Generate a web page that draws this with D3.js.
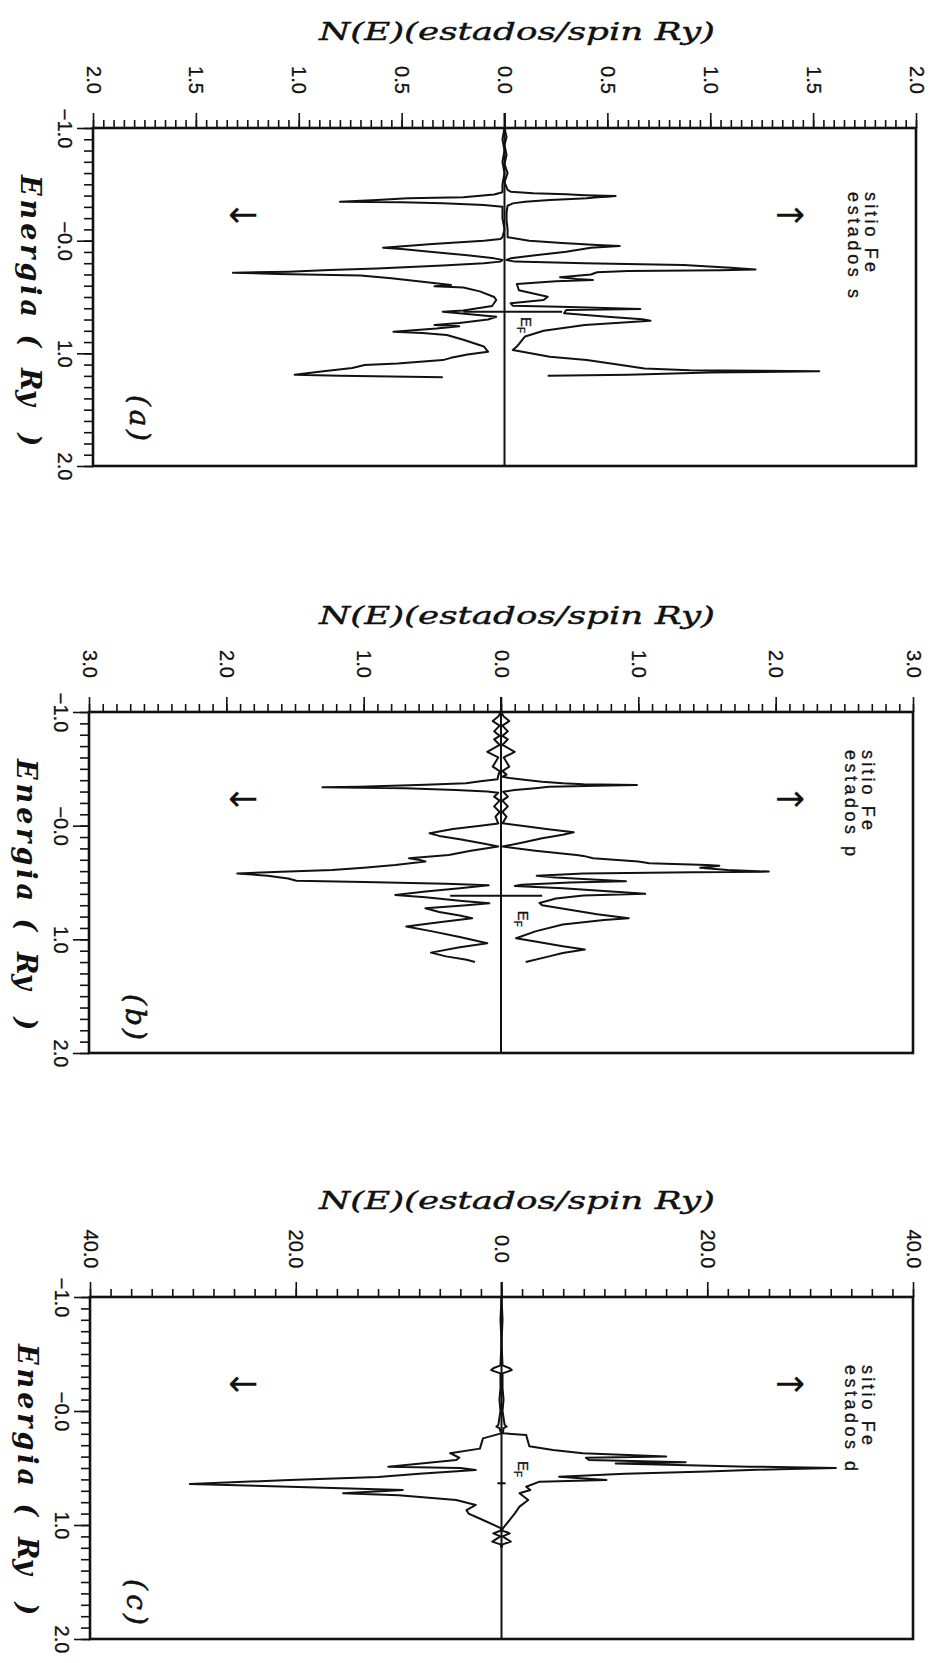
<!DOCTYPE html>
<html>
<head>
<meta charset="utf-8">
<script src="https://cdn.jsdelivr.net/npm/d3@7"></script>
<style>
body { margin: 0; background: #fff; }
svg { display: block; }
.curve { fill: none; stroke: #111; stroke-width: 2; stroke-linejoin: round; }
.frame { fill: none; stroke: #111; stroke-width: 2.6; }
.rule { stroke: #111; stroke-width: 2; }
.title { font-family: "DejaVu Serif", serif; font-style: italic; font-size: 25px; fill: #111; stroke: #111; stroke-width: 0.4; }
.etitle { font-family: "DejaVu Serif", serif; font-style: italic; font-weight: bold; font-size: 27px; fill: #111; }
.letter { font-family: "DejaVu Serif", serif; font-style: italic; font-size: 28px; fill: #111; stroke: #111; stroke-width: 0.6; }
.num { font-family: "Liberation Sans", Arial, sans-serif; font-size: 20px; fill: #111; stroke: #111; stroke-width: 0.3; }
.legend { font-family: "Liberation Sans", Arial, sans-serif; font-size: 18px; fill: #111; stroke: #111; stroke-width: 0.3; }
.arrow { font-family: "DejaVu Sans", sans-serif; font-size: 36px; fill: #111; }
.ef { font-family: "Liberation Sans", Arial, sans-serif; font-size: 15px; fill: #111; stroke: #111; stroke-width: 0.3; }
</style>
</head>
<body>
<svg id="chart" width="931" height="1663"></svg>
<script>
/*globals d3*/

// energy axis (Ry), same for the three panels
var energyTicks = [-1, 0, 1, 2];
var energyLabels = ["\u22121.0", "\u22120.0", "1.0", "2.0"];

// N(E) axis ticks and printed labels for each panel
var nTicksS = [-2, -1.5, -1, -0.5, 0, 0.5, 1, 1.5, 2];
var nLabelsS = ["2.0", "1.5", "1.0", "0.5", "0.0", "0.5", "1.0", "1.5", "2.0"];
var nTicksP = [-3, -2, -1, 0, 1, 2, 3];
var nLabelsP = ["3.0", "2.0", "1.0", "0.0", "1.0", "2.0", "3.0"];
var nTicksD = [-40, -20, 0, 20, 40];
var nLabelsD = ["40.0", "20.0", "0.0", "20.0", "40.0"];

var panelLetters = ["(a)", "(b)", "(c)"];
var legendSite = "sitio Fe";
var legendStates = ["estados s", "estados p", "estados d"];

// Fermi level marker: energy, N span, and energy of the E_F label
var fermiE = [0.63, 0.616, 0.634];
var fermiSpan = [[-0.2, 0.28], [-0.37, 0.30], [-0.4, 0.4]];
var fermiLabelE = [0.75, 0.82, 0.51];

// curves as [E, N]; spin down values are positive and drawn to the left
var sUp = [[-1.00,0.00],[-0.92,0.01],[-0.85,0.00],[-0.76,0.01],[-0.68,0.00],[-0.60,0.015],[-0.52,0.00],[-0.45,0.015],
  [-0.435,0.03],[-0.42,0.14],[-0.411,0.30],[-0.404,0.39],[-0.396,0.54],[-0.39,0.50],[-0.385,0.45],[-0.376,0.40],
  [-0.368,0.30],[-0.361,0.22],[-0.346,0.10],[-0.331,0.04],[-0.31,0.015],[-0.25,0.01],[-0.18,0.01],[-0.10,0.015],
  [-0.03,0.015],[0.00,0.12],[0.02,0.28],[0.038,0.45],[0.047,0.56],[0.062,0.42],[0.098,0.30],[0.13,0.15],[0.157,0.03],
  [0.172,0.01],[0.186,0.05],[0.201,0.39],[0.216,0.87],[0.24,1.10],[0.255,1.22],[0.262,1.05],[0.27,0.60],[0.28,0.45],
  [0.30,0.42],[0.325,0.27],[0.34,0.35],[0.349,0.43],[0.36,0.25],[0.385,0.06],[0.44,0.07],[0.497,0.21],[0.527,0.19],
  [0.556,0.03],[0.577,0.04],[0.586,0.27],[0.606,0.66],[0.615,0.30],[0.645,0.29],[0.675,0.50],[0.698,0.67],[0.71,0.71],
  [0.748,0.39],[0.80,0.19],[0.85,0.10],[0.94,0.06],[0.97,0.04],[1.03,0.22],[1.06,0.40],[1.10,0.55],[1.135,0.68],
  [1.15,0.90],[1.155,1.25],[1.16,1.53],[1.17,1.00],[1.19,0.60],[1.20,0.21]];
var sDown = [[-1.00,0.00],[-0.90,0.01],[-0.80,0.00],[-0.70,0.01],[-0.60,0.00],[-0.50,0.01],[-0.43,0.01],[-0.41,0.05],
  [-0.385,0.20],[-0.376,0.47],[-0.36,0.62],[-0.346,0.80],[-0.34,0.50],[-0.331,0.30],[-0.317,0.10],[-0.302,0.01],
  [-0.20,0.01],[-0.10,0.00],[-0.03,0.01],[-0.015,0.02],[0.00,0.10],[0.03,0.35],[0.062,0.59],[0.075,0.50],[0.10,0.35],
  [0.13,0.18],[0.157,0.05],[0.172,0.01],[0.186,0.02],[0.20,0.10],[0.22,0.30],[0.246,0.62],[0.26,0.85],[0.275,1.05],
  [0.285,1.32],[0.295,1.10],[0.31,0.70],[0.334,0.55],[0.36,0.42],[0.393,0.26],[0.405,0.34],[0.415,0.20],[0.45,0.12],
  [0.50,0.05],[0.527,0.04],[0.58,0.06],[0.62,0.20],[0.63,0.30],[0.645,0.22],[0.675,0.04],[0.70,0.08],[0.73,0.22],
  [0.748,0.34],[0.76,0.22],[0.78,0.33],[0.808,0.54],[0.82,0.40],[0.837,0.28],[0.88,0.20],[0.94,0.10],[0.985,0.08],
  [1.01,0.18],[1.04,0.26],[1.06,0.30],[1.09,0.52],[1.104,0.68],[1.13,0.74],[1.16,0.88],[1.19,1.02],[1.20,0.80],[1.213,0.30]];

var pUp = [[-1.00,0.00],[-0.96,0.02],[-0.92,0.06],[-0.88,0.01],[-0.83,0.05],[-0.79,0.01],[-0.76,0.05],[-0.71,0.01],
  [-0.65,0.10],[-0.60,0.02],[-0.52,0.06],[-0.48,0.01],[-0.45,0.04],[-0.431,0.012],[-0.42,0.06],[-0.40,0.20],
  [-0.387,0.30],[-0.373,0.45],[-0.364,0.60],[-0.358,0.99],[-0.352,0.70],[-0.343,0.35],[-0.33,0.25],[-0.314,0.10],
  [-0.299,0.015],[-0.255,0.05],[-0.22,0.01],[-0.17,0.05],[-0.12,0.01],[-0.08,0.04],[-0.021,0.012],[0.00,0.15],
  [0.03,0.33],[0.058,0.53],[0.08,0.45],[0.11,0.30],[0.15,0.15],[0.184,0.012],[0.22,0.25],[0.258,0.55],[0.266,0.60],
  [0.287,0.67],[0.316,1.00],[0.331,1.08],[0.346,1.50],[0.352,1.59],[0.37,1.45],[0.39,1.65],[0.404,1.95],[0.41,1.40],
  [0.42,0.60],[0.44,0.26],[0.455,0.40],[0.475,0.70],[0.49,0.91],[0.50,0.50],[0.52,0.15],[0.53,0.10],[0.55,0.45],
  [0.575,0.75],[0.60,1.05],[0.615,0.60],[0.64,0.40],[0.68,0.28],[0.70,0.30],[0.74,0.50],[0.78,0.70],[0.815,0.93],
  [0.83,0.75],[0.87,0.45],[0.93,0.25],[0.99,0.11],[1.02,0.25],[1.06,0.45],[1.09,0.61],[1.12,0.45],[1.15,0.35],[1.20,0.18]];
var pDown = [[-1.00,0.00],[-0.96,0.02],[-0.92,0.06],[-0.88,0.01],[-0.83,0.05],[-0.79,0.01],[-0.76,0.05],[-0.71,0.01],
  [-0.65,0.10],[-0.60,0.02],[-0.52,0.06],[-0.48,0.01],[-0.44,0.02],[-0.408,0.025],[-0.39,0.15],[-0.373,0.255],
  [-0.36,0.55],[-0.343,1.03],[-0.337,1.30],[-0.33,0.70],[-0.314,0.33],[-0.30,0.10],[-0.29,0.02],[-0.255,0.05],
  [-0.22,0.01],[-0.17,0.05],[-0.12,0.01],[-0.08,0.04],[-0.02,0.02],[0.00,0.15],[0.03,0.35],[0.067,0.52],[0.09,0.45],
  [0.12,0.30],[0.16,0.12],[0.184,0.02],[0.22,0.22],[0.258,0.38],[0.287,0.67],[0.30,0.60],[0.316,0.55],[0.346,0.77],
  [0.37,1.00],[0.39,1.23],[0.405,1.60],[0.42,1.92],[0.44,1.70],[0.465,1.55],[0.484,1.49],[0.495,1.00],[0.51,0.40],
  [0.525,0.09],[0.55,0.30],[0.58,0.55],[0.61,0.77],[0.63,0.55],[0.66,0.30],[0.683,0.085],[0.70,0.25],[0.727,0.55],
  [0.76,0.45],[0.79,0.30],[0.815,0.21],[0.85,0.45],[0.888,0.69],[0.93,0.50],[0.98,0.30],[1.035,0.10],[1.07,0.30],
  [1.117,0.51],[1.15,0.40],[1.18,0.25],[1.20,0.19]];

var dUp = [[-1.00,0.0],[-0.80,0.1],[-0.60,0.0],[-0.40,0.1],[-0.375,0.8],[-0.36,1.0],[-0.345,0.6],[-0.33,0.1],
  [-0.20,0.1],[-0.10,0.2],[0.00,0.1],[0.12,0.3],[0.137,0.5],[0.15,0.2],[0.196,0.13],[0.21,2.4],[0.31,2.7],
  [0.342,5.0],[0.371,7.9],[0.40,16.0],[0.41,8.2],[0.43,8.5],[0.45,17.9],[0.46,11.1],[0.488,24.1],[0.50,32.5],
  [0.51,27.0],[0.53,20.0],[0.55,12.0],[0.576,5.6],[0.605,10.2],[0.62,3.7],[0.664,2.4],[0.693,2.8],[0.722,1.75],
  [0.781,2.6],[0.839,1.75],[0.898,1.3],[0.956,0.8],[1.029,0.13],[1.05,0.1],[1.073,0.8],[1.10,0.1],[1.146,0.9],
  [1.17,0.1],[1.20,0.0]];
var dDown = [[-1.00,0.0],[-0.80,0.1],[-0.60,0.0],[-0.40,0.1],[-0.375,0.8],[-0.36,1.0],[-0.345,0.6],[-0.33,0.1],
  [-0.20,0.1],[-0.10,0.2],[0.00,0.1],[0.12,0.3],[0.137,0.5],[0.15,0.2],[0.196,0.03],[0.24,1.8],[0.33,2.1],
  [0.37,5.0],[0.41,4.1],[0.43,4.4],[0.488,11.0],[0.50,4.0],[0.517,2.5],[0.55,8.0],[0.58,12.0],[0.605,20.6],
  [0.64,30.3],[0.664,20.6],[0.693,9.6],[0.722,15.4],[0.74,10.0],[0.78,4.4],[0.824,2.5],[0.87,3.4],[0.90,3.2],
  [0.956,1.8],[1.029,0.03],[1.05,0.1],[1.073,0.8],[1.10,0.1],[1.146,0.9],[1.17,0.1],[1.20,0.0]];

var panels = [
  {letter: panelLetters[0], states: legendStates[0], ticks: nTicksS, labels: nLabelsS, minorStep: 0.05, up: sUp, down: sDown, k: 0},
  {letter: panelLetters[1], states: legendStates[1], ticks: nTicksP, labels: nLabelsP, minorStep: 0.1, up: pUp, down: pDown, k: 1},
  {letter: panelLetters[2], states: legendStates[2], ticks: nTicksD, labels: nLabelsD, minorStep: 2, up: dUp, down: dDown, k: 2}
];

// page boxes of the three frames
var boxes = [
  {top: 128, bottom: 466, left: 93, right: 916, legendDy: 64, letterDy: 290},
  {top: 712, bottom: 1053, left: 89, right: 913, legendDy: 38, letterDy: 305},
  {top: 1297, bottom: 1639, left: 90, right: 913, legendDy: 68, letterDy: 305}
];

var svg = d3.select("#chart");

function cleanAxis(sel) {
    sel.select(".domain").remove();
    sel.attr("font-size", null).attr("font-family", null);
    sel.selectAll("line").attr("stroke", "#111").attr("stroke-width", 1.6);
}

function rotText(g, cls, px, py, str) {
    return g.append("text")
        .attr("class", cls)
        .attr("transform", "translate(" + px + "," + py + ") rotate(90)")
        .attr("dy", "0.35em")
        .text(str);
}

function drawPanel(p, b) {
    var g = svg.append("g");
    var nMax = p.ticks[p.ticks.length - 1];
    var x = d3.scaleLinear().domain([-nMax, nMax]).range([b.left, b.right]);
    var y = d3.scaleLinear().domain([-1, 2]).range([b.top, b.bottom]);

    g.append("text")
        .attr("class", "title")
        .attr("x", 517)
        .attr("y", b.top - 97)
        .attr("text-anchor", "middle")
        .attr("dominant-baseline", "central")
        .attr("textLength", 396)
        .attr("lengthAdjust", "spacingAndGlyphs")
        .text("N(E)(estados/spin Ry)");

    // N(E) axis on top
    var minor = d3.range(-nMax, nMax + p.minorStep / 2, p.minorStep);
    g.append("g")
        .attr("transform", "translate(0," + b.top + ")")
        .call(d3.axisTop(x).tickValues(minor).tickSize(8).tickFormat(""))
        .call(cleanAxis);
    var top = g.append("g")
        .attr("transform", "translate(0," + b.top + ")")
        .call(d3.axisTop(x).tickValues(p.ticks).tickSize(15).tickFormat(function (d, i) { return p.labels[i]; }))
        .call(cleanAxis);
    top.selectAll("text")
        .attr("class", "num")
        .attr("y", null)
        .attr("dy", "0.35em")
        .attr("text-anchor", "middle")
        .attr("transform", "translate(0,-48) rotate(90)");

    // energy axis on the left
    g.append("g")
        .attr("transform", "translate(" + b.left + ",0)")
        .call(d3.axisLeft(y).tickValues(d3.range(-1, 2.05, 0.1)).tickSize(9).tickFormat(""))
        .call(cleanAxis);
    var left = g.append("g")
        .attr("transform", "translate(" + b.left + ",0)")
        .call(d3.axisLeft(y).tickValues(energyTicks).tickSize(16).tickFormat(function (d, i) { return energyLabels[i]; }))
        .call(cleanAxis);
    left.selectAll("text")
        .attr("class", "num")
        .attr("x", null)
        .attr("dy", "0.35em")
        .attr("text-anchor", "middle")
        .attr("transform", "translate(-28,0) rotate(90)");

    // axis name, in four pieces to keep the wide gaps of the original
    var ex = b.left - 63;
    rotText(g, "etitle", ex, b.top + 47, "Energia")
        .attr("textLength", 142).attr("lengthAdjust", "spacing");
    rotText(g, "etitle", ex, b.top + 213, "(").attr("text-anchor", "middle");
    rotText(g, "etitle", ex, b.top + 240, "Ry");
    rotText(g, "etitle", ex, b.top + 312, ")").attr("text-anchor", "middle");

    g.append("rect")
        .attr("class", "frame")
        .attr("x", b.left)
        .attr("y", b.top)
        .attr("width", b.right - b.left)
        .attr("height", b.bottom - b.top);

    g.append("line")
        .attr("class", "rule")
        .attr("x1", x(0)).attr("x2", x(0))
        .attr("y1", b.top - 15).attr("y2", b.bottom);

    var upLine = d3.line()
        .x(function (d) { return x(d[1]); })
        .y(function (d) { return y(d[0]); });
    var downLine = d3.line()
        .x(function (d) { return x(-d[1]); })
        .y(function (d) { return y(d[0]); });

    g.append("path").attr("class", "curve").attr("d", upLine(p.up));
    g.append("path").attr("class", "curve").attr("d", downLine(p.down));

    // Fermi level
    g.append("line")
        .attr("class", "rule")
        .attr("x1", x(fermiSpan[p.k][0])).attr("x2", x(fermiSpan[p.k][1]))
        .attr("y1", y(fermiE[p.k])).attr("y2", y(fermiE[p.k]));
    var ef = rotText(g, "ef", x(0) + 22, y(fermiLabelE[p.k]), "").attr("text-anchor", "middle");
    ef.append("tspan").text("E");
    ef.append("tspan").attr("font-size", "10px").attr("dy", "4").text("F");

    // spin arrows
    rotText(g, "arrow", 790, b.top + 87, "\u2191").attr("text-anchor", "middle");
    rotText(g, "arrow", 243, b.top + 87, "\u2193").attr("text-anchor", "middle");

    // legend
    rotText(g, "legend", b.right - 45, b.top + b.legendDy, legendSite)
        .attr("textLength", 80).attr("lengthAdjust", "spacing");
    rotText(g, "legend", b.right - 62, b.top + b.legendDy, p.states)
        .attr("textLength", 106).attr("lengthAdjust", "spacing");

    rotText(g, "letter", b.left + 47, b.top + b.letterDy, p.letter)
        .attr("text-anchor", "middle")
        .attr("textLength", 46).attr("lengthAdjust", "spacing");
}

panels.forEach(function (p, i) {
    drawPanel(p, boxes[i]);
});
</script>
</body>
</html>
